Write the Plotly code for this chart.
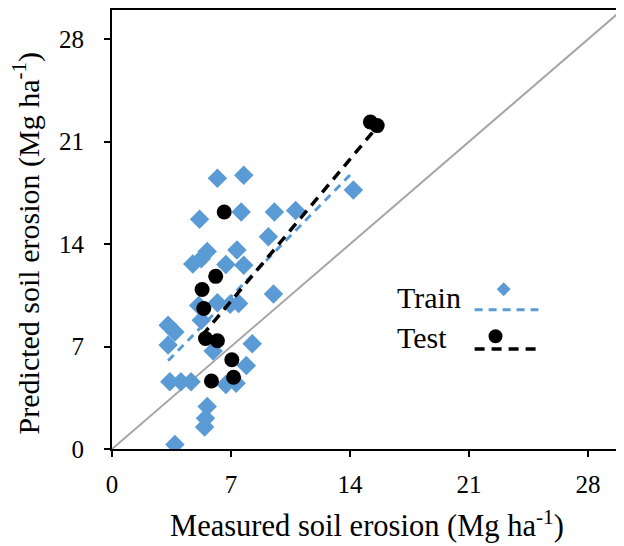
import numpy as np
import plotly.graph_objects as go

# measured vs predicted soil erosion (Mg ha-1)
train_measured = [6.2, 7.75, 7.6, 5.15, 9.55, 10.8, 9.2, 14.2, 5.6, 7.35,
                  5.25, 4.75, 6.7, 7.75, 9.5, 6.2, 6.95, 7.45, 5.1, 5.25,
                  3.3, 3.7, 3.3, 8.25, 5.95, 7.9, 6.7, 7.3, 3.4, 4.05,
                  4.65, 5.6, 5.5, 5.45, 3.7]
train_predicted = [18.5, 18.7, 16.2, 15.7, 16.2, 16.3, 14.5, 17.7, 13.5, 13.6,
                   13.0, 12.65, 12.6, 12.55, 10.6, 10.0, 9.9, 9.95, 9.8, 8.8,
                   8.45, 8.0, 7.1, 7.2, 6.7, 5.7, 4.4, 4.5, 4.6, 4.6,
                   4.6, 2.9, 2.1, 1.5, 0.3]

test_measured = [6.6, 6.1, 5.3, 5.4, 5.5, 6.2, 7.05, 7.15, 5.85, 15.2, 15.6]
test_predicted = [16.2, 11.8, 10.9, 9.6, 7.55, 7.4, 6.1, 4.9, 4.65, 22.35, 22.1]

tick_vals = [0, 7, 14, 21, 28]
axis_max = 30

BLUE = "#5B9BD5"
FONT = "Liberation Serif"
PW, PH = 512, 439  # plot area in px


def trend(x, y):
    x = np.asarray(x)
    k, b = np.polyfit(x, np.asarray(y), 1)
    xs = np.array([x.min(), x.max()])
    return xs, k * xs + b


fig = go.Figure()

fig.add_trace(go.Scatter(x=[0, axis_max], y=[0, axis_max], mode="lines",
                         line=dict(color="#A6A6A6", width=2), hoverinfo="skip"))

fig.add_trace(go.Scatter(x=train_measured, y=train_predicted, mode="markers",
                         marker=dict(symbol="diamond", size=15, color=BLUE),
                         name="Train"))
fig.add_trace(go.Scatter(x=test_measured, y=test_predicted, mode="markers",
                         marker=dict(symbol="circle", size=15, color="black"),
                         name="Test"))

tx, ty = trend(train_measured, train_predicted)
fig.add_trace(go.Scatter(x=tx, y=ty, mode="lines",
                         line=dict(color=BLUE, width=3, dash="8px,6px")))
sx, sy = trend(test_measured, test_predicted)
fig.add_trace(go.Scatter(x=sx, y=sy, mode="lines",
                         line=dict(color="black", width=3.5, dash="10px,7px")))

# hand-made legend (text on the left, marker above a dashed line)
legend_font = dict(family=FONT, size=30, color="black")
fig.add_annotation(x=0.555, y=0.346, xref="paper", yref="paper", text="Train",
                   showarrow=False, xanchor="left", yanchor="middle", font=legend_font)
fig.add_annotation(x=0.555, y=0.253, xref="paper", yref="paper", text="Test",
                   showarrow=False, xanchor="left", yanchor="middle", font=legend_font)

dx, dy = 7 / PW, 7 / PH
cx, cy = 0.768, 0.364
fig.add_shape(type="path", xref="paper", yref="paper", line_width=0, fillcolor=BLUE,
              path=f"M {cx} {cy + dy} L {cx + dx} {cy} L {cx} {cy - dy} L {cx - dx} {cy} Z")
fig.add_shape(type="line", xref="paper", yref="paper", x0=0.711, x1=0.836, y0=0.317, y1=0.317,
              line=dict(color=BLUE, width=3, dash="8px,6px"))
cx, cy = 0.752, 0.257
fig.add_shape(type="circle", xref="paper", yref="paper", line_width=0, fillcolor="black",
              x0=cx - dx, x1=cx + dx, y0=cy - dy, y1=cy + dy)
fig.add_shape(type="line", xref="paper", yref="paper", x0=0.711, x1=0.836, y0=0.228, y1=0.228,
              line=dict(color="black", width=3.5, dash="10px,7px"))

# y title placed by hand: it sits a bit below the plot centre in the original
fig.add_annotation(x=-0.168, y=0.469, xref="paper", yref="paper",
                   text="Predicted soil erosion (Mg ha<sup>-1</sup>)", textangle=-90,
                   showarrow=False, xanchor="center", yanchor="middle",
                   font=dict(family=FONT, size=30, color="black"))

axis_common = dict(
    range=[0, axis_max], tickvals=tick_vals, ticks="outside", ticklen=6, tickwidth=2,
    tickcolor="black", showline=True, linewidth=2, linecolor="black", mirror=True,
    showgrid=False, zeroline=False, tickfont=dict(family=FONT, size=25, color="black"),
)

# page body keeps its 8px margin, so the figure is 8px smaller than the window
fig.update_layout(
    width=616, height=538,
    margin=dict(l=104, r=0, t=2, b=97),
    paper_bgcolor="white", plot_bgcolor="white",
    showlegend=False,
    xaxis=dict(**axis_common, ticklabelstandoff=6,
               title=dict(text="Measured soil erosion (Mg ha<sup>-1</sup>)", standoff=18,
                          font=dict(family=FONT, size=30.5, color="black"))),
    yaxis=dict(**axis_common, ticklabelstandoff=15),
)

fig.write_html("out.html")
